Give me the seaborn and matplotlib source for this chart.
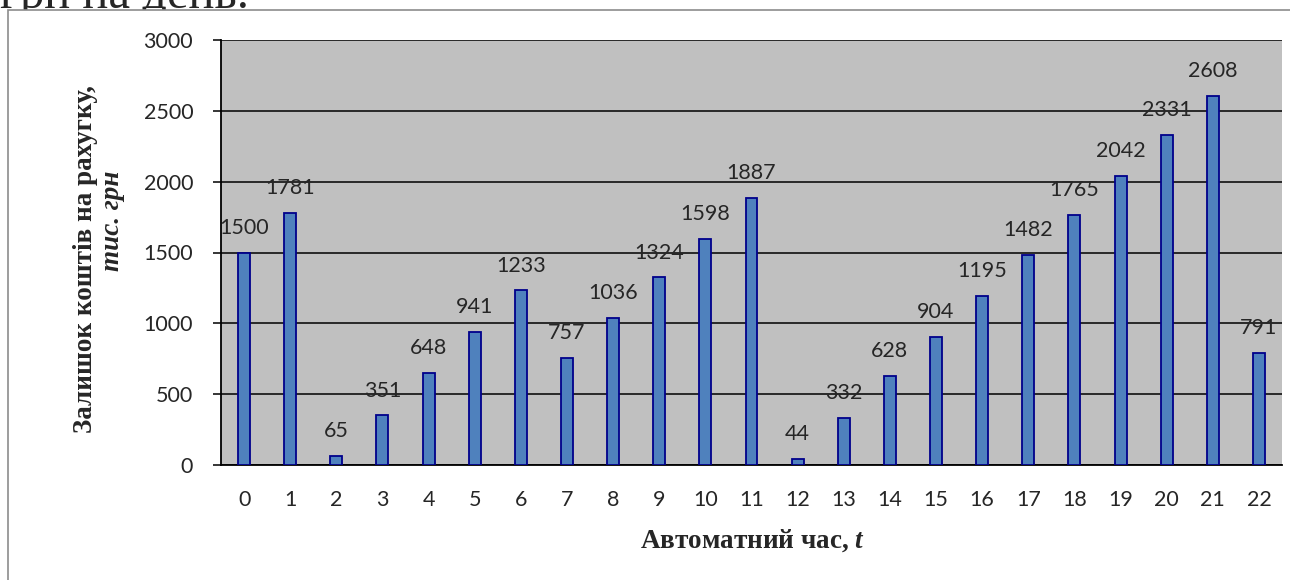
import seaborn as sns
import matplotlib.pyplot as plt
from matplotlib.patches import Rectangle

# Data
hours = [str(h) for h in range(23)]
balance = [1500, 1781, 65, 351, 648, 941, 1233, 757, 1036, 1324, 1598, 1887,
           44, 332, 628, 904, 1195, 1482, 1765, 2042, 2331, 2608, 791]
y_ticks = [0, 500, 1000, 1500, 2000, 2500, 3000]

sns.set_style('white')
plt.rcParams['font.family'] = ['Lato', 'DejaVu Sans']
plt.rcParams['mathtext.fontset'] = 'custom'
plt.rcParams['mathtext.it'] = 'Liberation Serif:italic:bold'
plt.rcParams['mathtext.rm'] = 'Liberation Serif:bold'

W, H = 1290, 580
fig = plt.figure(figsize=(W / 100, H / 100), dpi=100)
ax = fig.add_axes([221 / W, 1 - 465 / H, 1061 / W, 425 / H])
ax.set_facecolor('#C0C0C0')

# cropped text from the page above, partly hidden behind the chart frame
fig.text(0.0, 1 - 8 / H, 'грн на день.', fontsize=35, family='Liberation Serif',
         va='baseline', ha='left', zorder=-3)
# outer chart frame (white, covers the page text)
fig.patches.append(Rectangle((8 / W, -0.1), 1.1, (570 / H) + 0.1,
                             transform=fig.transFigure, facecolor='white',
                             edgecolor='#8C8C8C', linewidth=1.2, zorder=-2))

sns.barplot(x=hours, y=balance, order=hours, width=0.26, color='#4F81BD',
            edgecolor='#00008B', linewidth=1.3, saturation=1, ax=ax, zorder=3)

for i, v in enumerate(balance):
    ax.annotate(str(v), (i, v), xytext=(0, 13.5), textcoords='offset points',
                ha='center', va='baseline', fontsize=15.5, zorder=5)

ax.set_ylim(0, 3000)
ax.set_xlim(-0.5, len(hours) - 0.5)
ax.set_yticks(y_ticks)
ax.yaxis.grid(True, color='black', linewidth=1.1, zorder=1)
ax.set_axisbelow(True)
for s in ['top', 'right']:
    ax.spines[s].set_visible(False)
for s in ['left', 'bottom']:
    ax.spines[s].set_color('black')
    ax.spines[s].set_linewidth(1.3)
ax.tick_params(axis='y', length=6, width=1.1, color='black', pad=14, labelsize=15.5, left=True)
ax.tick_params(axis='x', length=0, pad=18, labelsize=15.5)

ax.set_xlabel('')
ax.set_ylabel('')
fig.text(752 / W, 1 - 548 / H, r'Автоматний час, $t$', fontsize=19.5,
         family='Liberation Serif', fontweight='bold', ha='center', va='baseline')
ax.text(-0.128, 0.485, 'Залишок коштів на рахугку,', transform=ax.transAxes,
        rotation=90, ha='center', va='center', fontsize=19.5,
        family='Liberation Serif', fontweight='bold')
ax.text(-0.102, 0.574, 'тис. грн', transform=ax.transAxes,
        rotation=90, ha='center', va='center', fontsize=19.5,
        family='Liberation Serif', fontweight='bold', style='italic')

fig.savefig('out.png', dpi=100)
